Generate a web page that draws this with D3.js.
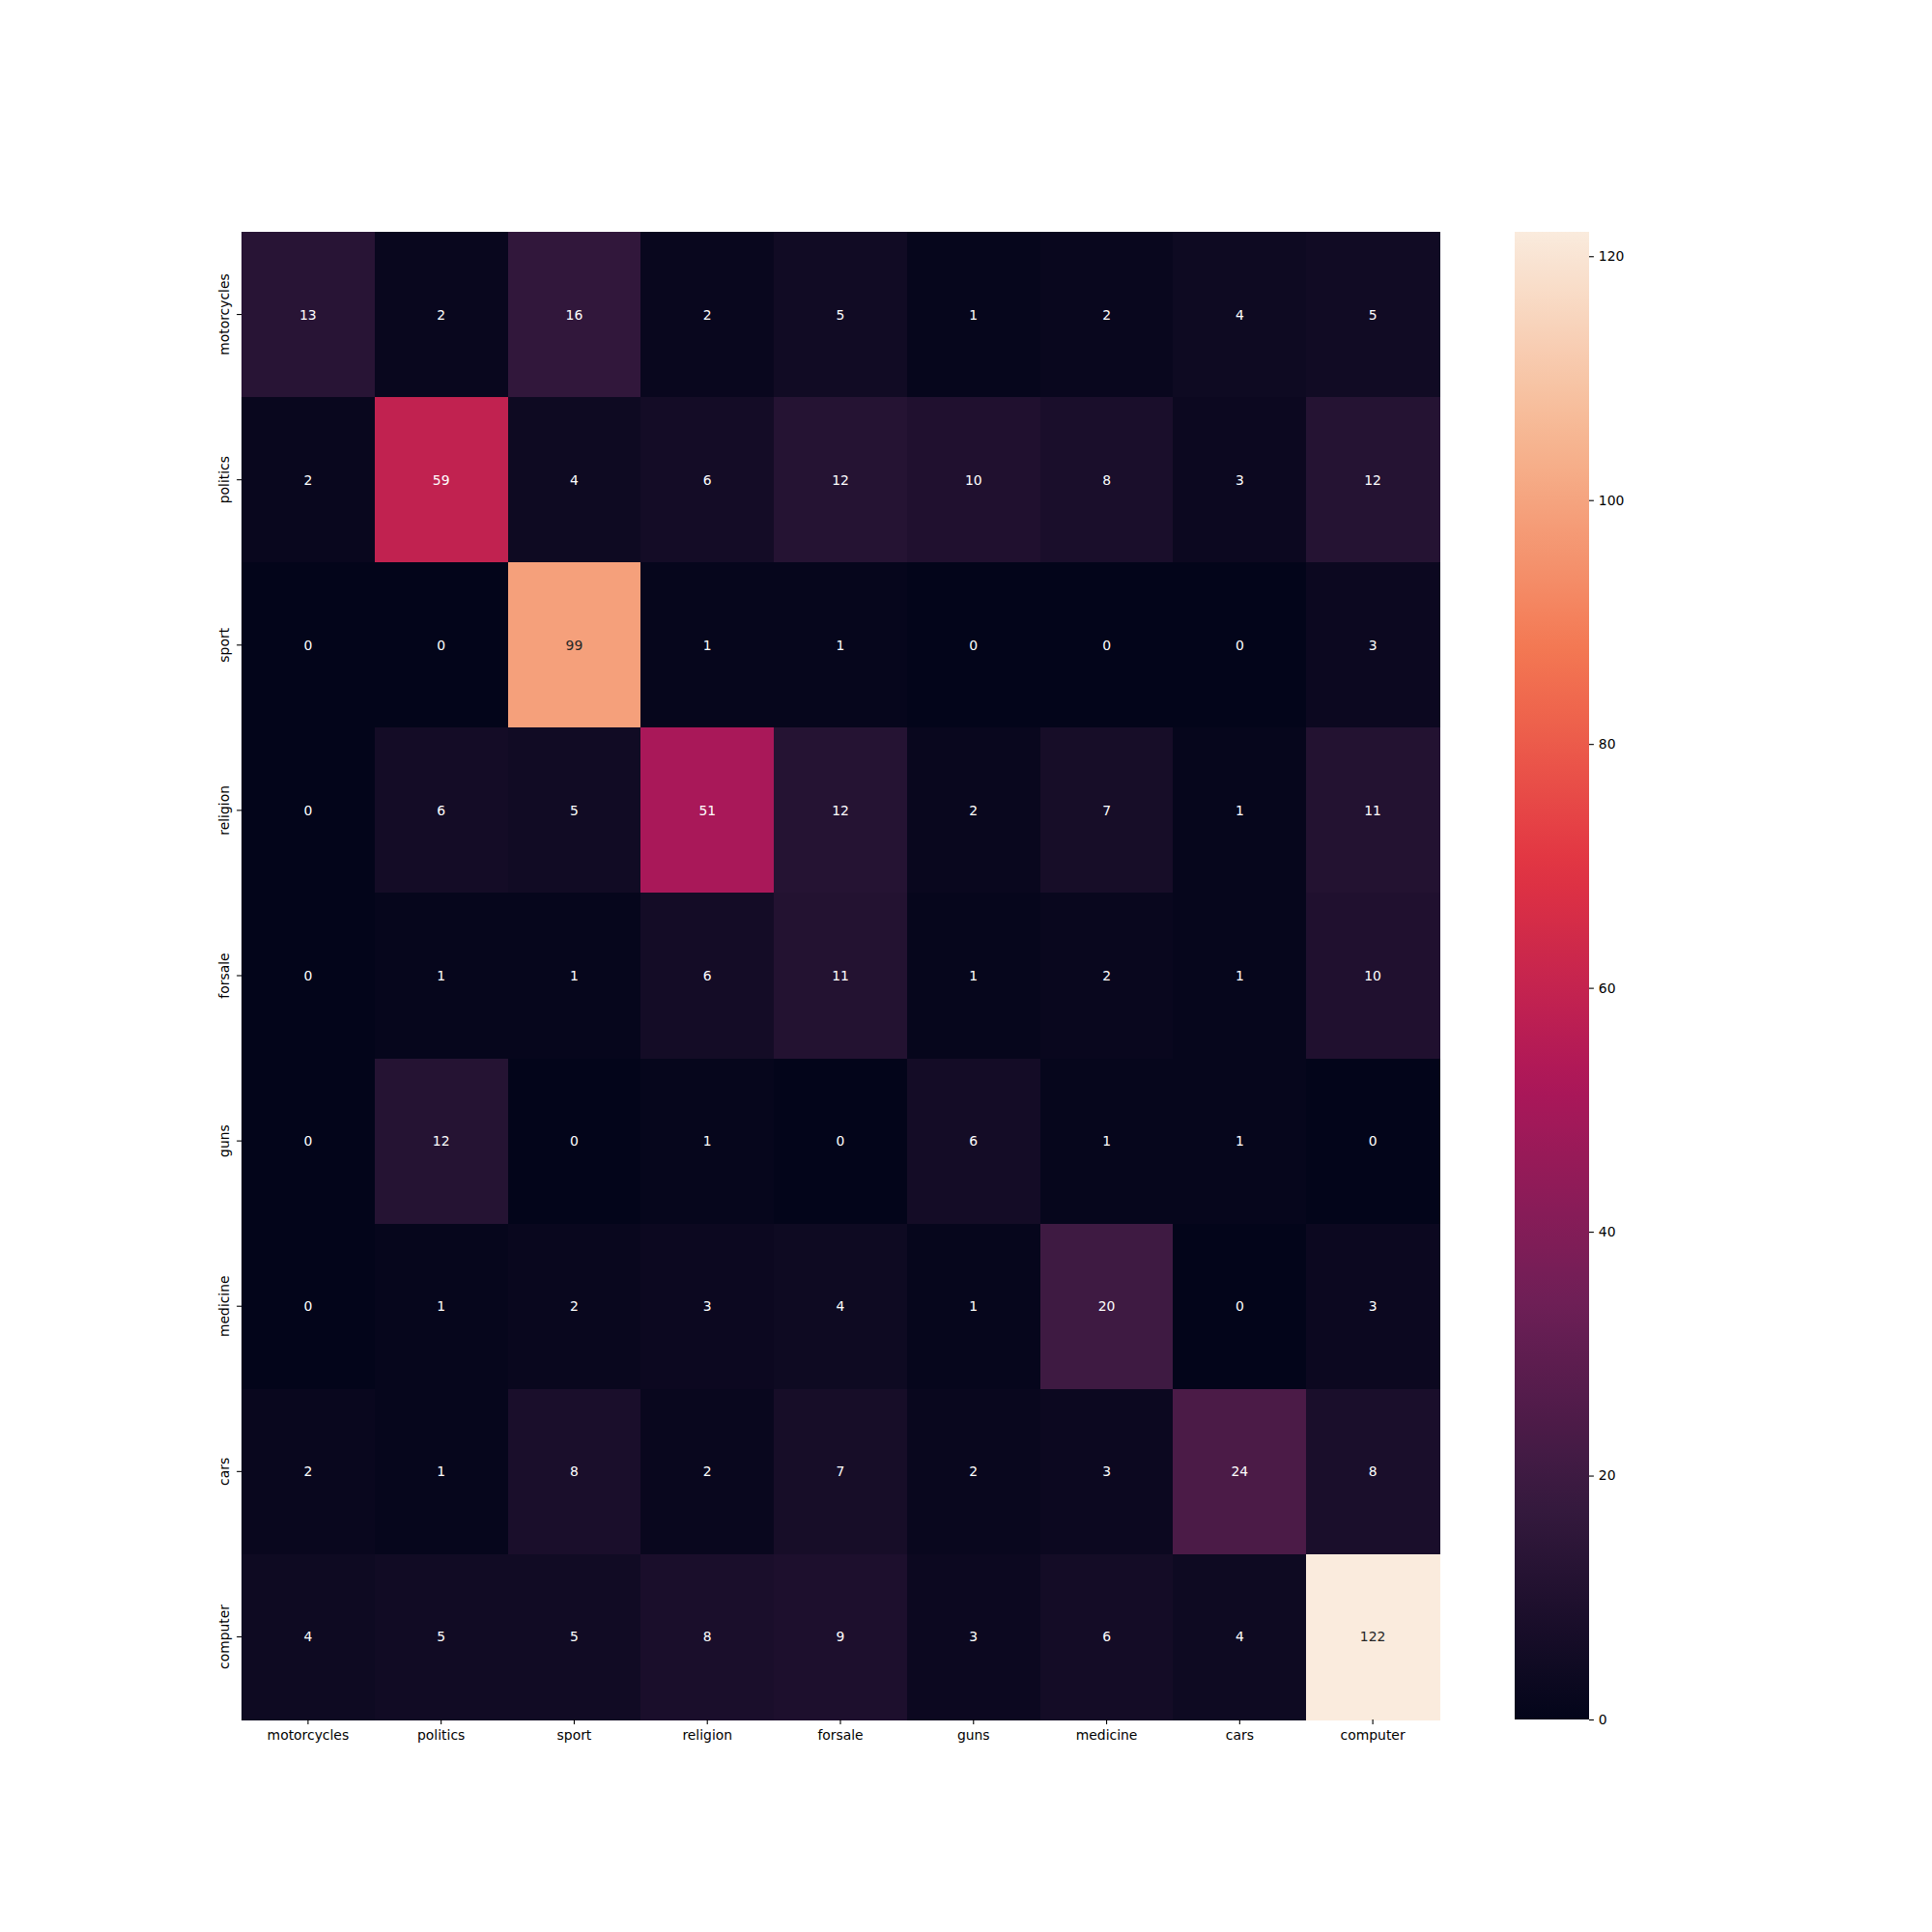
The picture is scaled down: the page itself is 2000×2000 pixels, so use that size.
<!DOCTYPE html>
<html>
<head>
<meta charset="utf-8">
<script src="https://cdn.jsdelivr.net/npm/d3@7"></script>
<style>
  html, body { margin: 0; padding: 0; background: #fff; }
  svg text { font-family: "DejaVu Sans", sans-serif; }
</style>
</head>
<body>
<svg id="chart" width="2000" height="2000"></svg>
<script>
const categories = ["motorcycles", "politics", "sport", "religion", "forsale", "guns", "medicine", "cars", "computer"];
const rowMotorcycles = [13, 2, 16, 2, 5, 1, 2, 4, 5];
const rowPolitics    = [2, 59, 4, 6, 12, 10, 8, 3, 12];
const rowSport       = [0, 0, 99, 1, 1, 0, 0, 0, 3];
const rowReligion    = [0, 6, 5, 51, 12, 2, 7, 1, 11];
const rowForsale     = [0, 1, 1, 6, 11, 1, 2, 1, 10];
const rowGuns        = [0, 12, 0, 1, 0, 6, 1, 1, 0];
const rowMedicine    = [0, 1, 2, 3, 4, 1, 20, 0, 3];
const rowCars        = [2, 1, 8, 2, 7, 2, 3, 24, 8];
const rowComputer    = [4, 5, 5, 8, 9, 3, 6, 4, 122];
const colorbarTicks  = [0, 20, 40, 60, 80, 100, 120];

const matrix = [rowMotorcycles, rowPolitics, rowSport, rowReligion, rowForsale, rowGuns, rowMedicine, rowCars, rowComputer];
const cells = [];
matrix.forEach((row, r) => row.forEach((v, c) => cells.push({ r: categories[r], c: categories[c], v })));

const vmax = d3.max(cells, d => d.v);
const rocketStops = ["#03051a", "#35193e", "#701f57", "#ad1759", "#e13342", "#f37651", "#f6b48f", "#faebdd"];
const rocket = d3.piecewise(d3.interpolateRgb, rocketStops);
const color = d3.scaleSequential(rocket).domain([0, vmax]);

const svg = d3.select("#chart");
const L = 250, R = 1490, T = 240, B = 1780;
const x = d3.scaleBand().domain(categories).range([L, R]);
const y = d3.scaleBand().domain(categories).range([T, B]);

function lum(c) {
  const rgb = d3.rgb(c);
  const f = v => { v /= 255; return v <= 0.03928 ? v / 12.92 : Math.pow((v + 0.055) / 1.055, 2.4); };
  return 0.2126 * f(rgb.r) + 0.7152 * f(rgb.g) + 0.0722 * f(rgb.b);
}

svg.append("g").attr("shape-rendering", "crispEdges").selectAll("rect").data(cells).join("rect")
  .attr("x", d => x(d.c)).attr("y", d => y(d.r))
  .attr("width", x.bandwidth() + 0.6).attr("height", y.bandwidth() + 0.6)
  .attr("fill", d => color(d.v));

svg.append("g").selectAll("text").data(cells).join("text")
  .attr("x", d => x(d.c) + x.bandwidth() / 2)
  .attr("y", d => y(d.r) + y.bandwidth() / 2)
  .attr("text-anchor", "middle").attr("dominant-baseline", "central")
  .attr("font-size", "13.9px")
  .attr("fill", d => lum(color(d.v)) > 0.408 ? "#262626" : "#ffffff")
  .text(d => d.v);

const xAxis = svg.append("g").attr("transform", `translate(0,${B})`)
  .call(d3.axisBottom(x).tickSize(4.9).tickPadding(5.8));
xAxis.select(".domain").remove();
xAxis.selectAll("text").attr("font-size", "13.9px").attr("fill", "#000").attr("font-family", "DejaVu Sans, sans-serif");
xAxis.selectAll("line").attr("stroke", "#000").attr("stroke-width", 1.1);

const yAxis = svg.append("g").attr("transform", `translate(${L},0)`)
  .call(d3.axisLeft(y).tickSize(4.9).tickPadding(4.9));
yAxis.select(".domain").remove();
yAxis.selectAll("line").attr("stroke", "#000").attr("stroke-width", 1.1);
yAxis.selectAll("text").attr("font-size", "13.9px").attr("fill", "#000").attr("font-family", "DejaVu Sans, sans-serif")
  .attr("x", null).attr("dy", null)
  .attr("text-anchor", "middle")
  .attr("transform", "translate(-13,0) rotate(-90)");

// colorbar
const cbL = 1568, cbR = 1645;
const cy = d3.scaleLinear().domain([0, vmax]).range([B, T]);
const defs = svg.append("defs");
const grad = defs.append("linearGradient").attr("id", "cbgrad")
  .attr("x1", 0).attr("y1", 1).attr("x2", 0).attr("y2", 0);
d3.range(0, 1.0001, 0.02).forEach(t => {
  grad.append("stop").attr("offset", t).attr("stop-color", rocket(t));
});
svg.append("rect").attr("x", cbL).attr("y", T).attr("width", cbR - cbL).attr("height", B - T)
  .attr("fill", "url(#cbgrad)");
const cAxis = svg.append("g").attr("transform", `translate(${cbR},0)`)
  .call(d3.axisRight(cy).tickValues(colorbarTicks).tickSize(4.9).tickPadding(4.9));
cAxis.select(".domain").remove();
cAxis.selectAll("line").attr("stroke", "#000").attr("stroke-width", 1.1);
cAxis.selectAll("text").attr("font-size", "13.9px").attr("fill", "#000").attr("font-family", "DejaVu Sans, sans-serif");
</script>
</body>
</html>
